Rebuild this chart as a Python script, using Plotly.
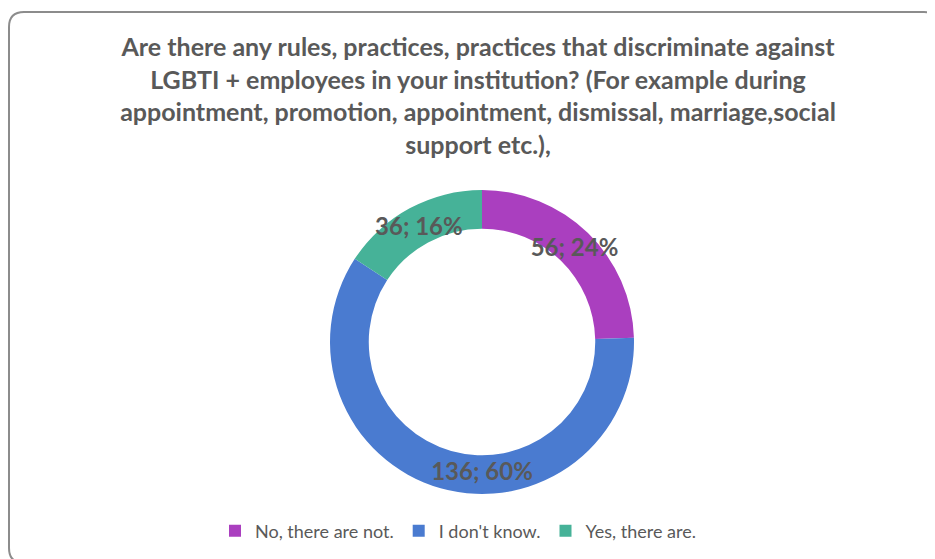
import plotly.graph_objects as go

labels = ["No, there are not.", "I don't know.", "Yes, there are."]
values = [56, 136, 36]
percents = [24, 60, 16]
colors = ["#AA3FBF", "#4A7BD0", "#46B298"]

title_lines = [
    "Are there any rules, practices, practices that discriminate against",
    "LGBTI + employees in your institution? (For example during",
    "appointment, promotion, appointment, dismissal, marriage,social",
    "support etc.),",
]

# page has an 8px body margin; figure occupies the rest of the 935x559 window
W, H = 927, 551
OFF = 8
cx, cy, R = 482 - OFF, 342 - OFF, 152

fig = go.Figure()
fig.add_trace(go.Pie(
    labels=labels, values=values, sort=False, direction="clockwise", rotation=0,
    hole=0.745,
    customdata=percents,
    marker=dict(colors=colors, line=dict(width=0)),
    texttemplate="%{value}; %{customdata}%",
    textposition="inside", insidetextorientation="horizontal",
    textfont=dict(family="Lato", size=24, color="#595959", weight="bold"),
    domain=dict(x=[(cx - R) / W, (cx + R) / W], y=[(H - cy - R) / H, (H - cy + R) / H]),
    showlegend=True, hoverinfo="label+value+percent",
))

# rounded border (right and bottom edges run just past the window)
x0, x1 = 1 / W, (939 - OFF) / W
yt, yb = 1 - (12 - OFF) / H, 1 - (563 - OFF) / H
rx, ry = 15 / W, 15 / H
path = (f"M {x0+rx},{yt} L {x1-rx},{yt} Q {x1},{yt} {x1},{yt-ry} "
        f"L {x1},{yb+ry} Q {x1},{yb} {x1-rx},{yb} L {x0+rx},{yb} "
        f"Q {x0},{yb} {x0},{yb+ry} L {x0},{yt-ry} Q {x0},{yt} {x0+rx},{yt} Z")
fig.add_shape(type="path", path=path, xref="paper", yref="paper",
              line=dict(color="#8C8C8C", width=2), layer="below")

fig.update_layout(
    width=W, height=H,
    margin=dict(l=0, r=0, t=0, b=0),
    paper_bgcolor="white", plot_bgcolor="white",
    title=dict(text="<br>".join(title_lines), x=(478 - OFF) / W, xanchor="center",
               y=1 - (56 - OFF) / H, yanchor="top",
               font=dict(family="Lato", size=25, color="#595959", weight="bold")),
    legend=dict(orientation="h", x=(458 - OFF) / W, xanchor="center",
                y=1 - (531 - OFF) / H, yanchor="middle",
                font=dict(family="Lato", size=18, color="#595959"), itemclick=False),
    uniformtext=dict(minsize=24, mode="show"),
)
fig.write_html("out.html")
